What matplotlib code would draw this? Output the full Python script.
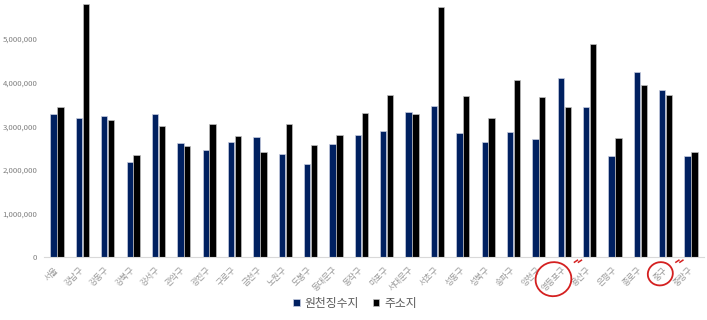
import matplotlib
matplotlib.use("Agg")
import matplotlib.pyplot as plt
import numpy as np
from matplotlib.patches import Ellipse
from matplotlib.ticker import FuncFormatter

plt.rcParams['font.family'] = ['Noto Sans CJK KR', 'DejaVu Sans']

categories = ['서울', '강남구', '강동구', '강북구', '강서구', '관악구', '광진구', '구로구', '금천구',
              '노원구', '도봉구', '동대문구', '동작구', '마포구', '서대문구', '서초구', '성동구',
              '성북구', '송파구', '양천구', '영등포구', '용산구', '은평구', '종로구', '중구', '중랑구']
withholding = [3280000, 3180000, 3230000, 2170000, 3290000, 2610000, 2450000, 2640000, 2760000,
               2370000, 2140000, 2590000, 2810000, 2890000, 3330000, 3470000, 2840000,
               2640000, 2870000, 2710000, 4110000, 3450000, 2310000, 4240000, 3830000, 2330000]
address = [3440000, 5790000, 3150000, 2340000, 3010000, 2540000, 3050000, 2780000, 2400000,
           3050000, 2580000, 2790000, 3300000, 3720000, 3280000, 5740000, 3690000,
           3190000, 4060000, 3680000, 3450000, 4890000, 2730000, 3950000, 3720000, 2400000]
series_names = ['원천징수지', '주소지']
highlighted = ['영등포구', '중구']

fig = plt.figure(figsize=(7.07, 3.2), dpi=100)
ax = fig.add_axes([0.0627, 0.196, 0.9327, 0.819])

x = np.arange(len(categories))
w = 0.25
off = 0.135
ax.bar(x - off, withholding, width=w, color='#002060', edgecolor='#c8cde0', linewidth=0.5, label=series_names[0])
ax.bar(x + off, address, width=w, color='#000000', edgecolor='#bfbfbf', linewidth=0.5, label=series_names[1])

ax.set_xlim(-0.5, len(categories) - 0.5)
ax.set_ylim(0, 6000000)
ax.set_yticks([0, 1000000, 2000000, 3000000, 4000000, 5000000])
ax.yaxis.set_major_formatter(FuncFormatter(lambda v, p: f'{int(v):,}'))
ax.tick_params(axis='y', length=0, labelsize=5.6, labelcolor='#7f7f7f', pad=5)
ax.tick_params(axis='x', length=0, labelsize=6.0, labelcolor='#999999', pad=8)
ax.set_xticks(x)
ax.set_xticklabels(categories, rotation=45, ha='right', va='center', rotation_mode='anchor')
for s in ['top', 'right', 'left']:
    ax.spines[s].set_visible(False)
ax.spines['bottom'].set_color('#d9d9d9')
ax.spines['bottom'].set_linewidth(0.8)

leg = fig.legend(loc='center', bbox_to_anchor=(0.502, 0.053), ncol=2, frameon=False,
                 fontsize=8.5, handlelength=0.55, handleheight=0.55, handletextpad=0.4,
                 columnspacing=1.2, labelcolor='#595959')

# hand-drawn red circles around highlighted labels
fig.canvas.draw()
renderer = fig.canvas.get_renderer()
labels = ax.get_xticklabels()
for name in highlighted:
    i = categories.index(name)
    bb = labels[i].get_window_extent(renderer)
    cx, cy = (bb.x0 + bb.x1) / 2, (bb.y0 + bb.y1) / 2
    wpx, hpx = bb.width + 8, bb.height + 6
    e = Ellipse((cx, cy), wpx, hpx, angle=15, transform=None, fill=False,
                edgecolor='#d42020', linewidth=1.3)
    fig.add_artist(e)
    for k in range(2):
        sx = cx + wpx / 2 + 3 + k * 4
        sy = cy + hpx / 2 + 1
        fig.add_artist(plt.Line2D([sx, sx + 3], [sy - 1, sy + 1], transform=None,
                                  color='#d42020', linewidth=1.1))

fig.savefig('out.png', dpi=100)
